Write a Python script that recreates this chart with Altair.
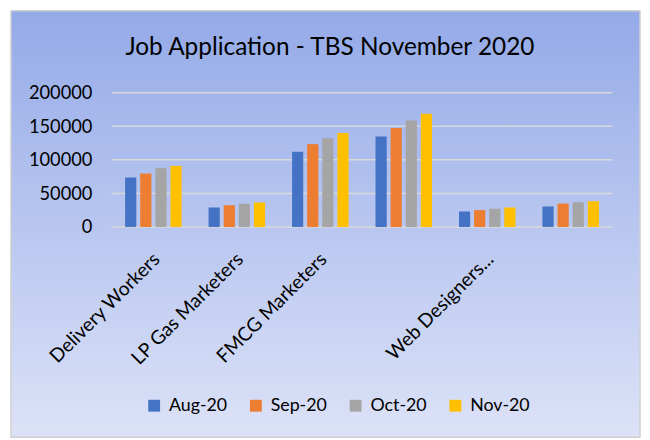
import altair as alt
import pandas as pd

categories = ["Delivery Workers", "LP Gas Marketers", "FMCG Marketers", " ", "Web Designers...", "  "]
months = ["Aug-20", "Sep-20", "Oct-20", "Nov-20"]
aug = [73700, 29000, 112000, 134700, 23100, 30500]
sep = [79600, 32400, 123300, 147400, 25100, 34900]
octo = [87500, 34500, 132200, 158700, 27100, 36800]
nov = [90900, 36400, 140000, 168600, 29000, 38300]
colors = ["#4472C4", "#ED7D31", "#A5A5A5", "#FFC000"]
y_ticks = [0, 50000, 100000, 150000, 200000]
title_text = "Job Application - TBS November 2020"

rows = []
for m, series in zip(months, [aug, sep, octo, nov]):
    for c, v in zip(categories, series):
        rows.append({"category": c, "month": m, "value": v})
df = pd.DataFrame(rows)
grid_df = pd.DataFrame({"tick": y_ticks})

FONT = "Lato"
y_scale = alt.Scale(domain=[0, 200000], nice=False)
y_axis = alt.Axis(values=y_ticks, format="d", labelFont=FONT, labelFontSize=18.5,
                  labelColor="#000000", labelPadding=20, ticks=False, domain=False,
                  grid=False, zindex=1, title=None)

bg = alt.Chart(alt.Data(values=[{}])).mark_rect(
    color=alt.Gradient(
        gradient="linear",
        stops=[alt.GradientStop(color="#94AAE8", offset=0),
               alt.GradientStop(color="#DCE2F7", offset=1)],
        x1=0, x2=0, y1=0, y2=1,
    ),
    stroke="#D0D0D0",
    strokeWidth=1.5,
).encode(
    x=alt.value(-102), x2=alt.value(535),
    y=alt.value(-83), y2=alt.value(349),
)

grid = alt.Chart(grid_df).mark_rule(color="#D9D9D9", strokeWidth=1.5).encode(
    y=alt.Y("tick:Q", scale=y_scale, axis=y_axis, title=None),
    x=alt.value(0), x2=alt.value(507),
)

title = alt.Chart(alt.Data(values=[{}])).mark_text(
    text=title_text, font=FONT, fontSize=24.7, color="#000000",
    align="center", baseline="alphabetic",
).encode(x=alt.value(221), y=alt.value(-38))

bars = alt.Chart(df).mark_bar().encode(
    x=alt.X("category:N", sort=categories, title=None,
            scale=alt.Scale(paddingInner=0.323, paddingOuter=0.161),
            axis=alt.Axis(labelAngle=-45, labelAlign="right", labelBaseline="top",
                          labelFont=FONT, labelFontSize=19.5, labelColor="#000000",
                          labelPadding=23, labelOffset=-3, ticks=False, domain=False,
                          labelLimit=300, zindex=1)),
    xOffset=alt.XOffset("month:N", sort=months,
                        scale=alt.Scale(paddingInner=0.26, paddingOuter=0)),
    y=alt.Y("value:Q", title=None, scale=y_scale, axis=y_axis),
    color=alt.Color("month:N", sort=months,
                    scale=alt.Scale(domain=months, range=colors),
                    legend=alt.Legend(title=None, orient="none", direction="horizontal",
                                      legendX=34, legendY=308, symbolType="square",
                                      symbolSize=144, symbolStrokeWidth=0,
                                      labelFont=FONT, labelFontSize=18, labelColor="#000000",
                                      labelOffset=6, columnPadding=20)),
)

chart = alt.layer(bg, grid, bars, title).properties(
    width=507,
    height=136,
    padding={"left": 105, "top": 83, "right": 30, "bottom": 213},
    autosize=alt.AutoSizeParams(type="none"),
    background="#FFFFFF",
).configure_view(stroke=None)

chart.save("out.html", embed_options={"renderer": "svg", "actions": False})
